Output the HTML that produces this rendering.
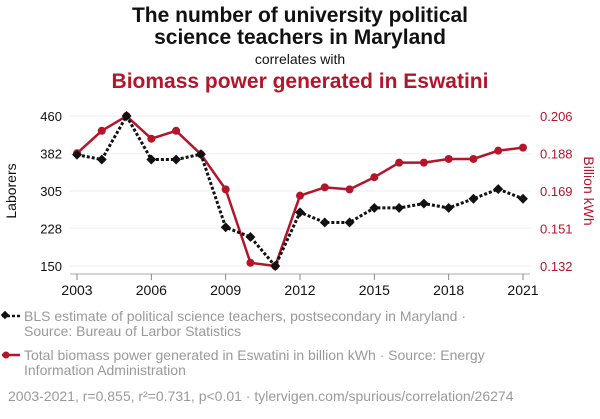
<!DOCTYPE html>
<html><head><meta charset="utf-8"><style>
body{margin:0;background:#fff;font-family:"Liberation Sans",sans-serif}
svg text{font-family:"Liberation Sans",sans-serif}
</style></head><body>
<svg id="c" width="600" height="414" xmlns="http://www.w3.org/2000/svg">
<text x="300" y="22" text-anchor="middle" font-size="21" font-weight="bold" fill="#111">The number of university political</text>
<text x="300" y="44" text-anchor="middle" font-size="21" font-weight="bold" fill="#111">science teachers in Maryland</text>
<text x="300" y="64" text-anchor="middle" font-size="14" fill="#111">correlates with</text>
<text x="300" y="88" text-anchor="middle" font-size="21" font-weight="bold" fill="#b5152b">Biomass power generated in Eswatini</text>
<g id="grid"></g>
<g id="axes"></g>
<g id="marks"></g>
<text transform="translate(16,191) rotate(-90)" text-anchor="middle" font-size="14" fill="#111">Laborers</text>
<text transform="translate(584,191) rotate(90)" text-anchor="middle" font-size="14" fill="#b5152b">Billion kWh</text>
<g>
<line x1="2" y1="316" x2="20" y2="316" stroke="#111" stroke-width="2.5" stroke-dasharray="3,2"/>
<rect x="2" y="312" width="6" height="6" transform="rotate(45 5 315)" fill="#111"/>
<text x="24" y="321" font-size="14" fill="#999">BLS estimate of political science teachers, postsecondary in Maryland ·</text>
<text x="24" y="336" font-size="14" fill="#999">Source: Bureau of Larbor Statistics</text>
</g>
<g>
<line x1="2" y1="355" x2="20" y2="355" stroke="#b5152b" stroke-width="2.5"/>
<circle cx="6" cy="355" r="3.5" fill="#b5152b"/>
<text x="24" y="360" font-size="14" fill="#999">Total biomass power generated in Eswatini in billion kWh · Source: Energy</text>
<text x="24" y="375" font-size="14" fill="#999">Information Administration</text>
</g>
<text x="8" y="401" font-size="14" fill="#999">2003-2021, r=0.855, r²=0.731, p&lt;0.01 · tylervigen.com/spurious/correlation/26274</text>
</svg>
<script>
const years=[2003,2004,2005,2006,2007,2008,2009,2010,2011,2012,2013,2014,2015,2016,2017,2018,2019,2020,2021];
const teachers=[380,370,460,370,370,381,230,210,150,261,240,240,270,270,279,270,289,309,289];
const biomass=[0.1876,0.1987,0.206,0.1948,0.1987,0.1871,0.1698,0.1336,0.132,0.1667,0.1708,0.1698,0.1758,0.183,0.183,0.1848,0.1848,0.1889,0.1904];
const leftTicks=[150,228,305,382,460];
const rightTicks=[0.132,0.151,0.169,0.188,0.206];
const xTicks=[2003,2006,2009,2012,2015,2018,2021];
const NS="http://www.w3.org/2000/svg";
const x=v=>77+(v-2003)/18*446;
const yL=v=>266-(v-150)/310*150;
const yR=v=>266-(v-0.132)/0.074*150;
function mk(t,a,p){const e=document.createElementNS(NS,t);for(const k in a)e.setAttribute(k,a[k]);p.appendChild(e);return e;}
const grid=document.getElementById('grid'),axes=document.getElementById('axes'),marks=document.getElementById('marks');
leftTicks.forEach((t,i)=>{
 const g=mk('line',{x1:70,x2:530,y1:yL(t),y2:yL(t),stroke:'#eee','stroke-width':1},grid);
 
 
 const l=mk('text',{x:62,y:yL(t)+5,'text-anchor':'end','font-size':13,fill:'#111'},axes);l.textContent=t;
 
 
 const r=mk('text',{x:540,y:yL(t)+5,'font-size':13,fill:'#b5152b'},axes);r.textContent=rightTicks[i].toFixed(3);
 
 
});
const ax=mk('line',{x1:70,x2:530,y1:274,y2:274,stroke:'#aaa','stroke-width':1},axes);


xTicks.forEach(t=>{
 mk('line',{x1:x(t),x2:x(t),y1:274,y2:280,stroke:'#888'},axes);
 const l=mk('text',{x:x(t),y:295,'text-anchor':'middle','font-size':14,fill:'#111'},axes);l.textContent=t;
 
 
});
const rp=mk('polyline',{points:years.map((y,i)=>x(y)+','+yR(biomass[i])).join(' '),fill:'none',stroke:'#b5152b','stroke-width':2.5},marks);


years.forEach((y,i)=>{const c=mk('circle',{cx:x(y),cy:yR(biomass[i]),r:4,fill:'#b5152b'},marks);
 
 });
const bp=mk('polyline',{points:years.map((y,i)=>x(y)+','+yL(teachers[i])).join(' '),fill:'none',stroke:'#111','stroke-width':3,'stroke-dasharray':'3,2'},marks);


years.forEach((y,i)=>{const cx=x(y),cy=yL(teachers[i]);
 const d=mk('rect',{x:cx-3.5,y:cy-3.5,width:7,height:7,fill:'#111',transform:`rotate(45 ${cx} ${cy})`},marks);
 
 });
</script>
</body></html>
